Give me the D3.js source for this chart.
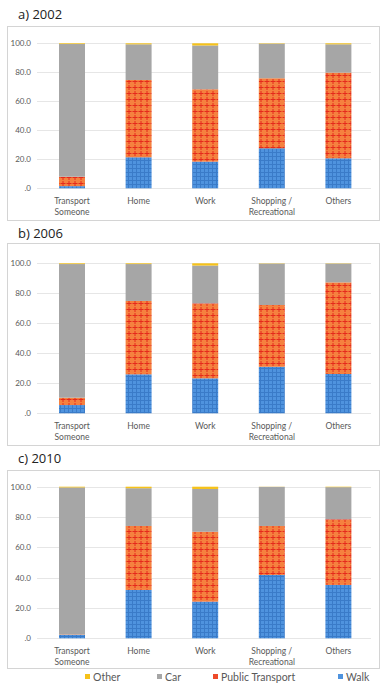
<!DOCTYPE html>
<html><head><meta charset="utf-8">
<script src="https://cdn.jsdelivr.net/npm/d3@7"></script>
<style>body{margin:0;background:#fff;} svg{display:block;}</style>
</head><body>
<script>
const categories = ["Transport Someone","Home","Work","Shopping / Recreational","Others"];
const categoryLines = [["Transport","Someone"],["Home"],["Work"],["Shopping /","Recreational"],["Others"]];
const seriesNames = ["Walk","Public Transport","Car","Other"];
const legendOrder = ["Other","Car","Public Transport","Walk"];
const yTicks = [0,20,40,60,80,100];
const panelTitles = ["a) 2002","b) 2006","c) 2010"];

const walk2002  = [1.5, 21.4, 18.4, 27.6, 20.7];
const pt2002    = [6.5, 53.3, 49.9, 48.3, 59.1];
const car2002   = [91.5, 24.6, 30.2, 23.8, 19.5];
const other2002 = [0.5, 0.7, 1.5, 0.3, 0.7];

const walk2006  = [5.5, 26.0, 23.3, 31.0, 26.2];
const pt2006    = [4.9, 48.9, 50.0, 41.2, 61.1];
const car2006   = [89.1, 24.6, 25.2, 27.6, 12.5];
const other2006 = [0.5, 0.5, 1.5, 0.2, 0.2];

const walk2010  = [2.2, 31.9, 24.2, 41.8, 35.2];
const pt2010    = [0.3, 42.2, 46.1, 32.3, 43.3];
const car2010   = [97.0, 24.9, 28.2, 25.8, 21.2];
const other2010 = [0.5, 1.0, 1.5, 0.1, 0.3];

const panelsData = [
  [walk2002, pt2002, car2002, other2002],
  [walk2006, pt2006, car2006, other2006],
  [walk2010, pt2010, car2010, other2010]
];

const W = 381, H = 686;
const svg = d3.select("body").append("svg").attr("width", W).attr("height", H);
const defs = svg.append("defs");

const pw = defs.append("pattern").attr("id","walkPat").attr("patternUnits","userSpaceOnUse").attr("width",4).attr("height",4);
pw.append("rect").attr("width",4).attr("height",4).attr("fill","#4f93de");
pw.append("path").attr("d","M0,0.5H4M0.5,0V4").attr("stroke","#3a7bc8").attr("stroke-width",1);

const pp = defs.append("pattern").attr("id","ptPat").attr("patternUnits","userSpaceOnUse").attr("width",6).attr("height",6);
pp.append("rect").attr("width",6).attr("height",6).attr("fill","#f5813f");
pp.append("path").attr("d","M0.5,3.5H5.5M3,1V6").attr("stroke","#e52a1c").attr("stroke-width",1);

const colors = {"Walk":"url(#walkPat)","Public Transport":"url(#ptPat)","Car":"#a6a6a6","Other":"#f6c21a"};
const legendColors = {"Walk":"#4f93de","Public Transport":"#ee4a2a","Car":"#a6a6a6","Other":"#f6c21a"};

const panels = [
  {title:[18,19], frame:[7,26,379,220], y0:188.3, y100:43.3},
  {title:[18,238], frame:[7,243,379,445], y0:413.3, y100:263.3},
  {title:[18,463], frame:[7,470,379,668], y0:638.3, y100:486.7}
];

const x = d3.scaleBand().domain(categories).range([38.7, 371.7]).paddingInner(0.61).paddingOuter(0.305);
const fmt = d => d === 0 ? ".0" : d.toFixed(1);

panels.forEach((p, i) => {
  const g = svg.append("g");
  g.append("text").attr("x", p.title[0]).attr("y", p.title[1])
    .attr("font-family","'Open Sans', Lato, sans-serif").attr("font-size",13).attr("fill","#222")
    .text(panelTitles[i]);
  g.append("rect").attr("x",p.frame[0]+0.5).attr("y",p.frame[1]+0.5)
    .attr("width",p.frame[2]-p.frame[0]).attr("height",p.frame[3]-p.frame[1])
    .attr("fill","none").attr("stroke","#a8a8a8").attr("stroke-width",1).attr("stroke-dasharray","1,1");

  const y = d3.scaleLinear().domain([0,100]).range([p.y0, p.y100]);

  g.append("g").selectAll("line").data(yTicks).join("line")
    .attr("x1",37).attr("x2",371).attr("y1",d=>Math.round(y(d))+0.5).attr("y2",d=>Math.round(y(d))+0.5)
    .attr("stroke","#e6e6e6").attr("stroke-width",1);

  const yAxis = d3.axisLeft(y).tickValues(yTicks).tickFormat(fmt).tickSize(0).tickPadding(0);
  const ya = g.append("g").attr("transform","translate(31,0)").call(yAxis);
  ya.select(".domain").remove();
  ya.selectAll("text").attr("font-family","Lato, 'Open Sans', sans-serif").attr("font-size",8).attr("fill","#595959");

  const vals = panelsData[i];
  const rows = categories.map((c, k) => {
    const o = {cat:c};
    seriesNames.forEach((s, j) => o[s] = vals[j][k]);
    return o;
  });
  const stacked = d3.stack().keys(seriesNames)(rows);
  g.append("g").selectAll("g").data(stacked).join("g")
    .attr("fill", d => colors[d.key])
    .selectAll("rect").data(d => d).join("rect")
    .attr("x", d => x(d.data.cat))
    .attr("width", x.bandwidth())
    .attr("y", d => y(d[1]))
    .attr("height", d => Math.max(0, y(d[0]) - y(d[1])));

  const xl = g.append("g");
  categories.forEach((c, k) => {
    const t = xl.append("text").attr("text-anchor","middle")
      .attr("font-family","Lato, 'Open Sans', sans-serif").attr("font-size",8.5).attr("fill","#595959");
    categoryLines[k].forEach((line, li) => {
      t.append("tspan").attr("x", x(c) + x.bandwidth()/2).attr("y", p.y0 + 16 + li*11).text(line);
    });
  });
});

const legendX = {"Other":85,"Car":157,"Public Transport":213,"Walk":338};
const lg = svg.append("g");
legendOrder.forEach(s => {
  lg.append("rect").attr("x", legendX[s]).attr("y", 674).attr("width",5).attr("height",5).attr("fill", legendColors[s]);
  lg.append("text").attr("x", legendX[s] + 8).attr("y", 680.5)
    .attr("font-family","Lato, 'Open Sans', sans-serif").attr("font-size",10.5).attr("fill","#595959").text(s);
});
</script>
</body></html>
